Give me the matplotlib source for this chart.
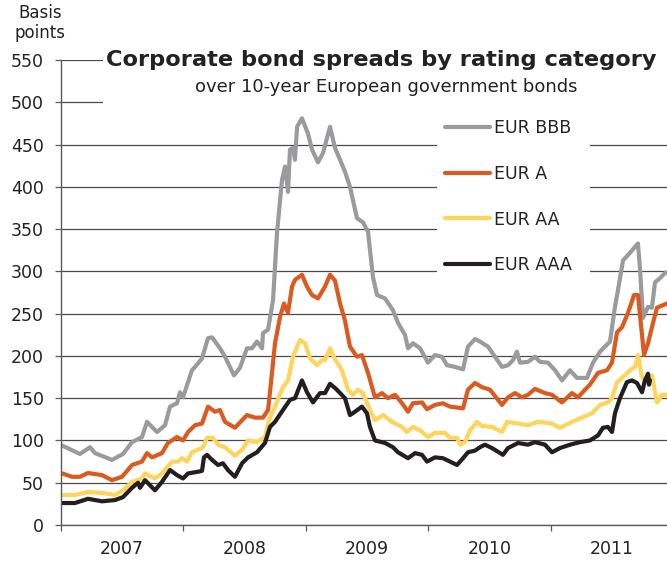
import numpy as np
import matplotlib
matplotlib.use("Agg")
import matplotlib.pyplot as plt
from matplotlib.patches import Rectangle
from matplotlib.ticker import FixedLocator, NullFormatter, FixedFormatter

# ---- data (x = years since 1 Jan 2007, y = basis points) ----
bbb_t = [0.000, 0.155, 0.237, 0.278, 0.416, 0.506, 0.580, 0.661, 0.702, 0.784, 0.849, 0.890, 0.947, 0.971, 0.996,
         1.069, 1.094, 1.151, 1.200, 1.233, 1.298, 1.339, 1.412, 1.461, 1.518, 1.559, 1.600, 1.641, 1.649, 1.690,
         1.731, 1.763, 1.804, 1.829, 1.853, 1.869, 1.894, 1.910, 1.927, 1.967, 2.016, 2.049, 2.098, 2.139, 2.196,
         2.237, 2.278, 2.318, 2.359, 2.416, 2.465, 2.506, 2.547, 2.580, 2.645, 2.710, 2.751, 2.808, 2.833, 2.873,
         2.931, 2.996, 3.053, 3.110, 3.151, 3.216, 3.282, 3.322, 3.380, 3.420, 3.486, 3.543, 3.600, 3.649, 3.690,
         3.722, 3.747, 3.812, 3.869, 3.910, 3.976, 4.033, 4.090, 4.155, 4.212, 4.294, 4.343, 4.400, 4.482, 4.522,
         4.547, 4.588, 4.645, 4.686, 4.710, 4.727, 4.751, 4.792, 4.824, 4.849, 4.890, 4.931, 4.947]
bbb_v = [94.6, 84, 92, 85, 77, 84, 98, 104, 122, 110, 118, 140, 144, 157, 151,
         183, 187, 197, 221, 222, 209, 199, 177, 186, 209, 209, 217, 209, 227, 231,
         266, 345, 408, 424, 394, 444, 446, 432, 471, 481, 463, 444, 429, 440, 471,
         446, 432, 418, 400, 363, 358, 347, 293, 272, 268, 254, 239, 225, 209, 215,
         209, 192, 201, 199, 189, 187, 184, 211, 220, 217, 211, 199, 187, 189, 195,
         205, 192, 193, 199, 193, 192, 183, 171, 183, 174, 174, 192, 205, 217, 258,
         278, 313, 322, 329, 333, 302, 245, 258, 257, 287, 292, 298, 299]

a_t = [0.000, 0.090, 0.155, 0.220, 0.335, 0.416, 0.498, 0.580, 0.661, 0.702, 0.743, 0.824, 0.873, 0.947, 0.996,
       1.037, 1.094, 1.151, 1.200, 1.257, 1.298, 1.339, 1.420, 1.518, 1.584, 1.649, 1.690, 1.706, 1.747, 1.788,
       1.820, 1.853, 1.886, 1.910, 1.967, 2.008, 2.049, 2.098, 2.155, 2.196, 2.237, 2.278, 2.318, 2.359, 2.416,
       2.457, 2.506, 2.563, 2.620, 2.669, 2.727, 2.784, 2.833, 2.873, 2.947, 2.988, 3.053, 3.118, 3.176, 3.282,
       3.322, 3.380, 3.437, 3.502, 3.600, 3.649, 3.706, 3.763, 3.812, 3.869, 3.951, 4.008, 4.090, 4.171, 4.220,
       4.278, 4.318, 4.384, 4.457, 4.498, 4.539, 4.580, 4.629, 4.678, 4.710, 4.743, 4.759, 4.792, 4.833, 4.865,
       4.914, 4.947]
a_v = [61.5, 57, 57, 61.5, 59, 53, 57, 71, 75, 85, 80, 85, 97, 104, 100,
       110, 118, 120, 140, 134, 136, 122, 115, 130, 127, 127, 136, 157, 215, 246,
       262, 251, 282, 290, 296, 282, 272, 268, 282, 296, 289, 262, 242, 211, 199,
       201, 180, 151, 156, 150, 154, 144, 134, 144, 145, 137, 142, 144, 140, 138,
       160, 168, 163, 160, 142, 151, 156, 151, 154, 161, 156, 154, 145, 156, 151,
       160, 166, 180, 183, 192, 228, 234, 251, 272, 272, 225, 201, 215, 239, 257,
       260, 262]

aa_t = [0.000, 0.114, 0.220, 0.335, 0.441, 0.506, 0.580, 0.661, 0.686, 0.767, 0.824, 0.906, 0.955, 0.988, 1.029,
        1.069, 1.118, 1.159, 1.192, 1.241, 1.282, 1.339, 1.420, 1.478, 1.527, 1.600, 1.665, 1.698, 1.747, 1.812,
        1.853, 1.894, 1.951, 1.992, 2.033, 2.090, 2.131, 2.155, 2.196, 2.237, 2.294, 2.343, 2.384, 2.424, 2.465,
        2.522, 2.563, 2.629, 2.702, 2.784, 2.824, 2.873, 2.931, 2.996, 3.053, 3.135, 3.176, 3.233, 3.257, 3.298,
        3.339, 3.396, 3.437, 3.518, 3.600, 3.641, 3.731, 3.812, 3.894, 4.008, 4.073, 4.171, 4.253, 4.335, 4.400,
        4.465, 4.498, 4.539, 4.588, 4.645, 4.686, 4.710, 4.743, 4.767, 4.824, 4.865, 4.906, 4.947]
aa_v = [35.5, 35.5, 39, 38, 35.5, 41, 51, 55, 61, 55, 61, 75, 75, 79, 75,
        86, 89, 92, 103, 103, 95, 92, 82, 89, 100, 98, 104, 124, 140, 163,
        171, 199, 219, 215, 197, 189, 195, 195, 209, 196, 183, 160, 154, 160, 156,
        136, 124, 130, 122, 116, 110, 116, 112, 104, 109, 109, 103, 103, 95, 98,
        112, 122, 117, 116, 110, 122, 120, 118, 122, 120, 115, 122, 127, 132, 142,
        145, 150, 169, 175, 183, 187, 201, 175, 171, 177, 145, 154, 154]

aaa_t = [0.000, 0.114, 0.220, 0.335, 0.441, 0.506, 0.580, 0.629, 0.645, 0.686, 0.767, 0.824, 0.890, 0.947, 0.996,
         1.037, 1.118, 1.151, 1.167, 1.192, 1.233, 1.282, 1.322, 1.363, 1.420, 1.478, 1.527, 1.600, 1.665, 1.706,
         1.747, 1.812, 1.869, 1.910, 1.967, 2.008, 2.057, 2.114, 2.155, 2.196, 2.245, 2.318, 2.359, 2.400, 2.457,
         2.498, 2.522, 2.563, 2.645, 2.710, 2.751, 2.833, 2.890, 2.947, 2.988, 3.053, 3.118, 3.176, 3.233, 3.282,
         3.322, 3.380, 3.420, 3.461, 3.518, 3.608, 3.649, 3.731, 3.812, 3.869, 3.951, 4.008, 4.073, 4.155, 4.237,
         4.318, 4.384, 4.424, 4.465, 4.498, 4.522, 4.563, 4.620, 4.661, 4.702, 4.743, 4.767, 4.792, 4.800, 4.808]
aaa_v = [26, 26, 31, 28, 29.5, 33, 44, 50, 44, 53, 41, 51, 65, 59, 55,
         61, 63, 64, 80, 83, 77, 71, 73, 65, 57, 73, 80, 86, 97, 116,
         122, 136, 148, 150, 171, 157, 145, 156, 156, 167, 161, 150, 130, 134, 140,
         132, 116, 100, 97, 92, 86, 79, 85, 83, 75, 80, 79, 75, 71, 79,
         86, 88, 92, 95, 91, 83, 91, 97, 95, 98, 95, 86, 91, 95, 98,
         100, 106, 115, 116, 110, 132, 150, 169, 171, 168, 157, 171, 179, 166, 171]

series_labels = ["EUR BBB", "EUR A", "EUR AA", "EUR AAA"]
series_colors = ["#9b9b9e", "#dc5a20", "#ffd45a", "#231f20"]
years = [2007, 2008, 2009, 2010, 2011]
y_ticks = list(range(0, 551, 50))

START = 2007.0
W, H = 667, 562

fig = plt.figure(figsize=(W / 100, H / 100), dpi=100)
plt.rcParams['font.family'] = ['DejaVu Sans']

def fx(px):
    return px / W

def fy(py):
    return 1 - py / H

ax = fig.add_axes([fx(61), fy(525), fx(667) - fx(61), fy(60) - fy(525)])
ax.set_xlim(START, START + 4.947)
ax.set_ylim(0, 550)

grid_c = "#4a4a4a"
ax.set_axisbelow(True)
ax.yaxis.grid(True, color=grid_c, lw=0.9)
ax.xaxis.grid(False)
for s in ["top", "right"]:
    ax.spines[s].set_visible(False)
for s in ["left", "bottom"]:
    ax.spines[s].set_color("#5a5a5a")
    ax.spines[s].set_linewidth(1.0)

ax.set_yticks(y_ticks)
ax.set_yticklabels([str(v) for v in y_ticks])
ax.tick_params(axis="y", length=4.5, width=0.9, color="#5a5a5a", pad=8, labelsize=12.5, labelcolor="#222222")

ax.xaxis.set_major_locator(FixedLocator(years))
ax.xaxis.set_major_formatter(NullFormatter())
ax.xaxis.set_minor_locator(FixedLocator([y + 0.5 for y in years]))
ax.xaxis.set_minor_formatter(FixedFormatter([str(y) for y in years]))
ax.tick_params(axis="x", which="major", length=4.5, width=0.9, color="#5a5a5a", direction="out")
ax.tick_params(axis="x", which="minor", length=0, pad=11, labelsize=12.5, labelcolor="#222222")

# white boxes behind title and legend (interrupt gridlines)
ax.add_patch(Rectangle((fx(103), fy(112)), fx(667) - fx(103), fy(40) - fy(112),
                       transform=fig.transFigure, facecolor="white", edgecolor="none",
                       zorder=1, clip_on=False))
ax.add_patch(Rectangle((fx(437), fy(282)), fx(590) - fx(437), fy(112) - fy(282),
                       transform=fig.transFigure, facecolor="white", edgecolor="none",
                       zorder=1, clip_on=False))

data = [(bbb_t, bbb_v), (a_t, a_v), (aa_t, aa_v), (aaa_t, aaa_v)]
handles = []
for (t, v), lab, col in zip(data, series_labels, series_colors):
    h, = ax.plot(START + np.array(t), v, color=col, lw=3.0, label=lab, zorder=2,
                 solid_joinstyle="round", solid_capstyle="round")
    handles.append(h)

leg = ax.legend(handles=handles, loc="upper left", bbox_to_anchor=(fx(445), fy(119)),
                bbox_transform=fig.transFigure, frameon=False, fontsize=12.5,
                handlelength=2.6, handletextpad=0.2, labelspacing=1.6,
                borderpad=0, borderaxespad=0)
for txt in leg.get_texts():
    txt.set_color("#222222")
for lh in leg.get_lines():
    lh.set_linewidth(3.0)
    lh.set_solid_capstyle("round")

fig.text(fx(381), fy(60), "Corporate bond spreads by rating category", ha="center", va="center",
         fontsize=16.2, fontweight="bold", color="#222222")
fig.text(fx(386), fy(87), "over 10-year European government bonds", ha="center", va="center",
         fontsize=13.0, color="#222222")
fig.text(fx(40), fy(23), "Basis\npoints", ha="center", va="center", fontsize=12,
         color="#222222", linespacing=1.15)

fig.savefig("out.png", dpi=100)
